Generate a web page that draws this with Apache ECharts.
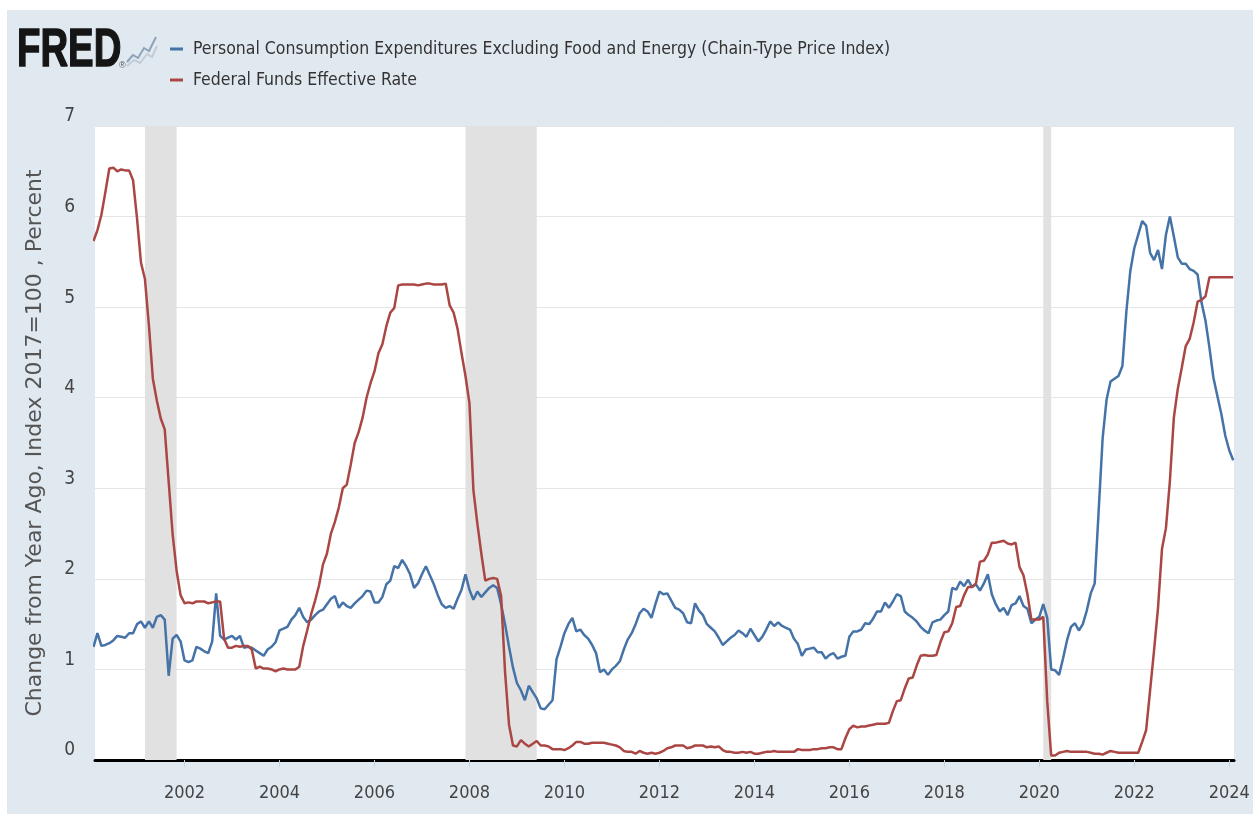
<!DOCTYPE html>
<html>
<head>
<meta charset="utf-8">
<title>FRED - Core PCE vs Federal Funds Rate</title>
<script src="https://cdn.jsdelivr.net/npm/echarts@6/dist/echarts.min.js"></script>
<style>
  html, body { margin: 0; padding: 0; background: #fff; }
  #chartDiv { position: absolute; left: 7px; top: 10px; width: 1246px; height: 804px; background: #e1e9f0; }
</style>
</head>
<body>
<div id="chartDiv"></div>
<script>
// monthly data, first value is Feb 2000
var firstYear = 2000;
var firstMonth = 2;

// PCE excluding food and energy, change from year ago (%)
var pceCore = [
  1.25, 1.40, 1.26, 1.27, 1.29, 1.32, 1.37, 1.36, 1.35, 1.40, 1.40,       // 2000
  1.50, 1.53, 1.46, 1.53, 1.46, 1.58, 1.60, 1.55, 0.93, 1.34, 1.38, 1.31, // 2001
  1.10, 1.08, 1.10, 1.25, 1.23, 1.20, 1.18, 1.31, 1.84, 1.37, 1.33, 1.35, // 2002
  1.37, 1.33, 1.37, 1.24, 1.25, 1.24, 1.21, 1.18, 1.15, 1.22, 1.25, 1.30, // 2003
  1.43, 1.45, 1.47, 1.55, 1.60, 1.68, 1.58, 1.52, 1.55, 1.60, 1.64, 1.66, // 2004
  1.72, 1.78, 1.81, 1.68, 1.74, 1.70, 1.68, 1.73, 1.77, 1.81, 1.87, 1.86, // 2005
  1.74, 1.74, 1.80, 1.94, 1.98, 2.14, 2.12, 2.21, 2.14, 2.05, 1.90, 1.95, // 2006
  2.05, 2.14, 2.04, 1.94, 1.82, 1.72, 1.68, 1.70, 1.67, 1.78, 1.88, 2.05, // 2007
  1.88, 1.77, 1.86, 1.80, 1.85, 1.90, 1.93, 1.90, 1.72, 1.50, 1.25, 1.02, // 2008
  0.85, 0.77, 0.66, 0.82, 0.75, 0.68, 0.57, 0.56, 0.61, 0.66, 1.11, 1.25, // 2009
  1.40, 1.50, 1.57, 1.42, 1.44, 1.38, 1.34, 1.27, 1.18, 0.97, 1.00, 0.94, // 2010
  1.00, 1.04, 1.09, 1.22, 1.33, 1.40, 1.50, 1.62, 1.67, 1.64, 1.57, 1.72, // 2011
  1.86, 1.83, 1.84, 1.76, 1.68, 1.66, 1.62, 1.52, 1.51, 1.73, 1.65, 1.60, // 2012
  1.50, 1.46, 1.42, 1.35, 1.27, 1.31, 1.35, 1.38, 1.43, 1.40, 1.36, 1.45, // 2013
  1.38, 1.31, 1.36, 1.44, 1.53, 1.48, 1.52, 1.48, 1.46, 1.44, 1.34, 1.28, // 2014
  1.15, 1.22, 1.23, 1.24, 1.19, 1.19, 1.12, 1.16, 1.18, 1.12, 1.14, 1.15, // 2015
  1.36, 1.42, 1.42, 1.44, 1.51, 1.50, 1.56, 1.64, 1.64, 1.74, 1.68, 1.75, // 2016
  1.83, 1.81, 1.64, 1.60, 1.57, 1.53, 1.47, 1.43, 1.40, 1.52, 1.54, 1.55, // 2017
  1.60, 1.64, 1.90, 1.88, 1.97, 1.92, 1.99, 1.91, 1.94, 1.87, 1.95, 2.05, // 2018
  1.83, 1.72, 1.64, 1.68, 1.60, 1.71, 1.73, 1.81, 1.70, 1.67, 1.51, 1.55, // 2019
  1.58, 1.72, 1.57, 1.00, 0.99, 0.94, 1.12, 1.32, 1.47, 1.51, 1.43, 1.50, // 2020
  1.65, 1.84, 1.95, 2.75, 3.55, 3.98, 4.18, 4.21, 4.24, 4.35, 4.95, 5.40, // 2021
  5.65, 5.80, 5.95, 5.90, 5.60, 5.52, 5.63, 5.42, 5.80, 6.00, 5.78, 5.55, // 2022
  5.48, 5.48, 5.42, 5.40, 5.36, 5.05, 4.85, 4.55, 4.22, 4.02, 3.82, 3.58, // 2023
  3.42, 3.31                                                              // 2024
];

// Federal funds effective rate (%)
var fedFunds = [
  5.73, 5.85, 6.02, 6.27, 6.53, 6.54, 6.50, 6.52, 6.51, 6.51, 6.40,       // 2000
  5.98, 5.49, 5.31, 4.80, 4.21, 3.97, 3.77, 3.65, 3.07, 2.49, 2.09, 1.82, // 2001
  1.73, 1.74, 1.73, 1.75, 1.75, 1.75, 1.73, 1.74, 1.75, 1.75, 1.34, 1.24, // 2002
  1.24, 1.26, 1.25, 1.26, 1.26, 1.22, 1.01, 1.03, 1.01, 1.01, 1.00, 0.98, // 2003
  1.00, 1.01, 1.00, 1.00, 1.00, 1.03, 1.26, 1.43, 1.61, 1.76, 1.93, 2.16, // 2004
  2.28, 2.50, 2.63, 2.79, 3.00, 3.04, 3.26, 3.50, 3.62, 3.78, 4.00, 4.16, // 2005
  4.29, 4.49, 4.59, 4.79, 4.94, 4.99, 5.24, 5.25, 5.25, 5.25, 5.25, 5.24, // 2006
  5.25, 5.26, 5.26, 5.25, 5.25, 5.25, 5.26, 5.02, 4.94, 4.76, 4.49, 4.24, // 2007
  3.94, 2.98, 2.61, 2.28, 1.98, 2.00, 2.01, 2.00, 1.81, 0.97, 0.39, 0.16, // 2008
  0.15, 0.22, 0.18, 0.15, 0.18, 0.21, 0.16, 0.16, 0.15, 0.12, 0.12, 0.12, // 2009
  0.11, 0.13, 0.16, 0.20, 0.20, 0.18, 0.18, 0.19, 0.19, 0.19, 0.19, 0.18, // 2010
  0.17, 0.16, 0.14, 0.10, 0.09, 0.09, 0.07, 0.10, 0.08, 0.07, 0.08, 0.07, // 2011
  0.08, 0.10, 0.13, 0.14, 0.16, 0.16, 0.16, 0.13, 0.14, 0.16, 0.16, 0.16, // 2012
  0.14, 0.15, 0.14, 0.15, 0.11, 0.09, 0.09, 0.08, 0.08, 0.09, 0.08, 0.09, // 2013
  0.07, 0.07, 0.08, 0.09, 0.09, 0.10, 0.09, 0.09, 0.09, 0.09, 0.09, 0.12, // 2014
  0.11, 0.11, 0.11, 0.12, 0.12, 0.13, 0.13, 0.14, 0.14, 0.12, 0.12, 0.24, // 2015
  0.34, 0.38, 0.36, 0.37, 0.37, 0.38, 0.39, 0.40, 0.40, 0.40, 0.41, 0.54, // 2016
  0.65, 0.66, 0.79, 0.90, 0.91, 1.04, 1.15, 1.16, 1.15, 1.15, 1.16, 1.30, // 2017
  1.41, 1.42, 1.51, 1.69, 1.70, 1.82, 1.91, 1.91, 1.95, 2.19, 2.20, 2.27, // 2018
  2.40, 2.40, 2.41, 2.42, 2.39, 2.38, 2.40, 2.13, 2.04, 1.83, 1.55, 1.55, // 2019
  1.55, 1.58, 0.65, 0.05, 0.05, 0.08, 0.09, 0.10, 0.09, 0.09, 0.09, 0.09, // 2020
  0.09, 0.08, 0.07, 0.07, 0.06, 0.08, 0.10, 0.09, 0.08, 0.08, 0.08, 0.08, // 2021
  0.08, 0.08, 0.20, 0.33, 0.77, 1.21, 1.68, 2.33, 2.56, 3.08, 3.78, 4.10, // 2022
  4.33, 4.57, 4.65, 4.83, 5.06, 5.08, 5.12, 5.33, 5.33, 5.33, 5.33, 5.33, // 2023
  5.33, 5.33                                                              // 2024
];

// recession periods (shaded)
var recessions = [['2001-03', '2001-11'], ['2007-12', '2009-06'], ['2020-02', '2020-04']];
var yearTicks = [2002, 2004, 2006, 2008, 2010, 2012, 2014, 2016, 2018, 2020, 2022, 2024];
var yTicks = [0, 1, 2, 3, 4, 5, 6, 7];

var pceName = 'Personal Consumption Expenditures Excluding Food and Energy (Chain-Type Price Index)';
var ffName = 'Federal Funds Effective Rate';

var narrowFont = "'Liberation Sans Narrow', 'DejaVu Sans Condensed', Roboto, sans-serif";

function monthX(i) {
    return firstYear + (firstMonth - 1 + i) / 12;
}
function ymX(s) {
    var p = s.split('-');
    return +p[0] + (+p[1] - 1) / 12;
}

var pceData = pceCore.map(function (v, i) { return [monthX(i), v]; });
var ffData = fedFunds.map(function (v, i) { return [monthX(i), v]; });
var recessionAreas = recessions.map(function (r) {
    return [{ xAxis: ymX(r[0]) }, { xAxis: ymX(r[1]) }];
});

var chart = echarts.init(document.getElementById('chartDiv'));

var option = {
    animation: false,
    backgroundColor: 'transparent',
    grid: {
        left: 88, top: 116, right: 19, bottom: 54,
        show: true, backgroundColor: '#fff', borderWidth: 0,
        containLabel: false, outerBoundsMode: 'none'
    },
    legend: {
        orient: 'vertical',
        left: 158,
        top: 25,
        itemGap: 13,
        itemWidth: 13,
        itemHeight: 3,
        icon: 'rect',
        selectedMode: false,
        textStyle: { fontFamily: narrowFont, fontSize: 17.5, color: '#333', padding: [0, 0, 0, 5] },
        data: [pceName, ffName]
    },
    graphic: [
        {
            type: 'text', x: 10, y: 14, scaleX: 0.71,
            style: {
                text: 'FRED', font: 'bold 54px "Liberation Sans", Arial, sans-serif',
                fill: '#151515', stroke: '#151515', lineWidth: 1.5
            }
        },
        {
            type: 'polyline',
            shape: { points: [[120, 52], [126, 45], [131, 48], [137, 38], [142, 41], [149, 27]] },
            style: { stroke: '#8da2b8', lineWidth: 2, fill: null }
        },
        {
            type: 'polyline',
            shape: { points: [[120, 56], [127, 50], [133, 53], [140, 44], [145, 47], [150, 36]] },
            style: { stroke: '#c2ccd6', lineWidth: 2, fill: null }
        },
        {
            type: 'text', x: 112, y: 51,
            style: { text: '®', font: '9px sans-serif', fill: '#555' }
        }
    ],
    xAxis: {
        type: 'value',
        min: 2000.115,
        max: 2024.1,
        axisLine: { show: true, onZero: false, lineStyle: { color: '#000', width: 3 } },
        axisTick: { show: true, customValues: yearTicks, length: 7, lineStyle: { color: '#c5d3e0', width: 1 } },
        axisLabel: {
            customValues: yearTicks,
            formatter: function (v) { return String(v); },
            fontFamily: narrowFont, fontSize: 18, color: '#444', margin: 24
        },
        splitLine: { show: false }
    },
    yAxis: {
        type: 'value',
        min: 0, max: 7, interval: 1,
        name: 'Change from Year Ago, Index 2017=100 , Percent',
        nameLocation: 'middle',
        nameGap: 49,
        nameRotate: 90,
        nameTextStyle: { fontFamily: 'DejaVu Sans', fontSize: 22, color: '#555' },
        axisLine: { show: false },
        axisTick: { show: false },
        axisLabel: {
            customValues: yTicks,
            fontFamily: narrowFont, fontSize: 19, color: '#444', margin: 20, verticalAlign: 'bottom'
        },
        splitLine: { lineStyle: { color: '#e6e6e6', width: 1 } }
    },
    series: [
        {
            name: pceName,
            type: 'line',
            data: pceData,
            showSymbol: false,
            symbol: 'none',
            lineStyle: { color: '#4572a7', width: 2.5 },
            itemStyle: { color: '#4572a7' },
            markArea: {
                silent: true,
                itemStyle: { color: '#e1e1e1' },
                data: recessionAreas
            }
        },
        {
            name: ffName,
            type: 'line',
            data: ffData,
            showSymbol: false,
            symbol: 'none',
            lineStyle: { color: '#aa4643', width: 2.5 },
            itemStyle: { color: '#aa4643' }
        }
    ]
};

chart.setOption(option);
</script>
</body>
</html>
